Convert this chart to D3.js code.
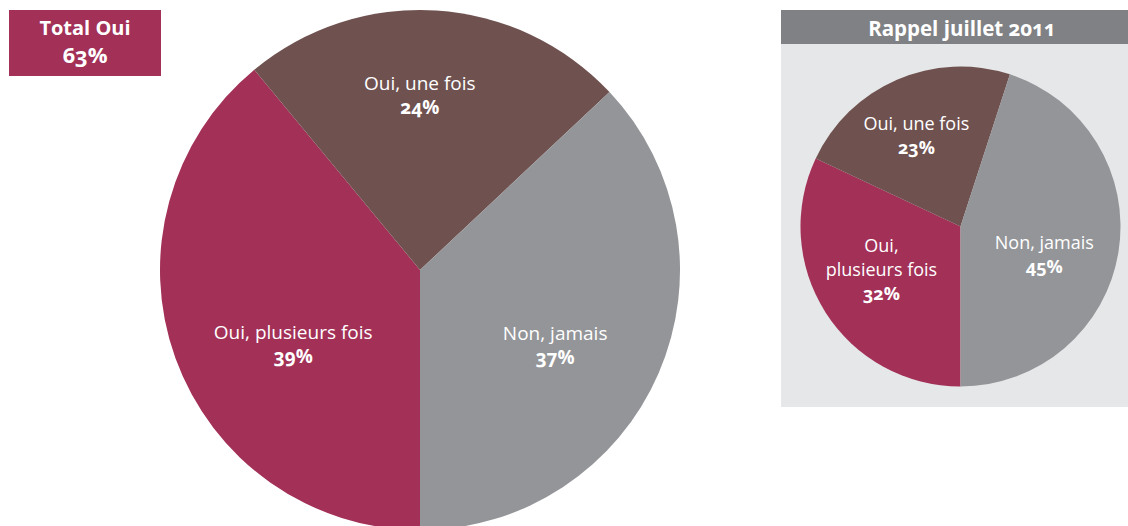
<!DOCTYPE html>
<html><head><meta charset="utf-8">
<script src="https://cdn.jsdelivr.net/npm/d3@7"></script>
<style>
body{margin:0;background:#fff;}
svg text{font-family:"Open Sans","Noto Sans",sans-serif;}
.num{font-feature-settings:"onum" 1;font-variant-numeric:oldstyle-nums;font-weight:700;}
</style></head><body>
<svg id="c" width="1128" height="526"></svg>
<script>
const categories = ["Oui, plusieurs fois", "Oui, une fois", "Non, jamais"];
const labelLinesMain = [["Oui, plusieurs fois"], ["Oui, une fois"], ["Non, jamais"]];
const labelLinesSmall = [["Oui,", "plusieurs fois"], ["Oui, une fois"], ["Non, jamais"]];
const valuesMain = [39, 24, 37];
const valuesSmall = [32, 23, 45];
const totalOui = 63;
const titleTotal = "Total Oui";
const titleSmall = "Rappel juillet 2011";

const colors = d3.scaleOrdinal().domain(categories).range(["#a23057", "#6f514f", "#939598"]);
const svg = d3.select("#c");

function drawPie(g, values, lines, R, offsets, fs, lh) {
  const data = categories.map((c, i) => ({cat: c, value: values[i], lines: lines[i]}));
  const pie = d3.pie().sort(null).value(d => d.value).startAngle(Math.PI).endAngle(3 * Math.PI);
  const arc = d3.arc().innerRadius(0).outerRadius(R);
  const labelArc = d3.arc().innerRadius(R * 0.6).outerRadius(R * 0.6);
  const arcs = pie(data);
  g.selectAll("path").data(arcs).join("path").attr("d", arc).attr("fill", d => colors(d.data.cat));
  arcs.forEach((a, i) => {
    const [cx, cy] = labelArc.centroid(a);
    const n = a.data.lines.length + 1;
    const x = cx + offsets[i][0], y = cy + offsets[i][1];
    const top = y - (n - 1) * lh / 2;
    const t = g.append("text").attr("text-anchor", "middle").attr("fill", "#fff").attr("font-size", fs);
    a.data.lines.forEach((l, k) => {
      t.append("tspan").attr("x", x).attr("y", top + k * lh + fs * 0.35).text(l);
    });
    t.append("tspan").attr("class", "num").attr("x", x).attr("y", top + (n - 1) * lh + fs * 0.35).text(a.data.value + "%");
  });
}

// Main pie
const gMain = svg.append("g").attr("transform", "translate(420,270)");
drawPie(gMain, valuesMain, labelLinesMain, 260, [[20, 22], [-10, -19], [-8, 13]], 19, 24);

// Total box
svg.append("rect").attr("x", 9).attr("y", 10).attr("width", 152).attr("height", 66).attr("fill", "#a23057");
svg.append("text").attr("x", 85).attr("y", 35).attr("text-anchor", "middle").attr("fill", "#fff")
  .attr("font-size", 20).attr("font-weight", 700).text(titleTotal);
svg.append("text").attr("class", "num").attr("x", 85).attr("y", 63).attr("text-anchor", "middle").attr("fill", "#fff")
  .attr("font-size", 22).text(totalOui + "%");

// Small panel
svg.append("rect").attr("x", 781).attr("y", 43).attr("width", 347).attr("height", 364).attr("fill", "#e6e7e8");
svg.append("rect").attr("x", 781).attr("y", 10).attr("width", 347).attr("height", 34).attr("fill", "#808184");
svg.append("text").attr("class", "num").attr("x", 962).attr("y", 36).attr("text-anchor", "middle").attr("fill", "#fff")
  .attr("font-size", 20.5).text(titleSmall);
const gSmall = svg.append("g").attr("transform", "translate(960.5,226.5)");
drawPie(gSmall, valuesSmall, labelLinesSmall, 160, [[2, -8], [-6, -3], [-11, 13]], 18, 24);
</script></body></html>
